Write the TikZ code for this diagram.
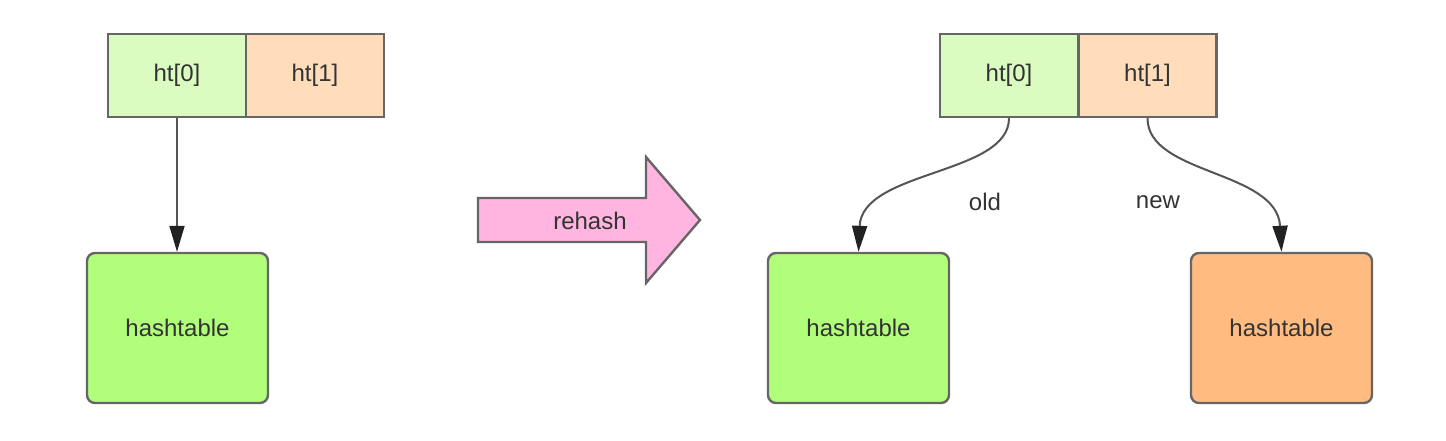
\documentclass[tikz,border=0pt]{standalone}
\usepackage{fontspec}
\setmainfont{Liberation Sans}
\usetikzlibrary{arrows.meta}
\definecolor{txt}{HTML}{333333}
\definecolor{bord}{HTML}{666666}
\definecolor{lgreen}{HTML}{DBFCC0}
\definecolor{lpeach}{HTML}{FFDDBB}
\definecolor{hgreen}{HTML}{B0FE7A}
\definecolor{horange}{HTML}{FFBB80}
\definecolor{pinkarrow}{HTML}{FFB5DF}
\definecolor{linec}{HTML}{555555}
\definecolor{tipc}{HTML}{222222}
\tikzset{
  lbl/.style={font=\fontsize{12}{14}\selectfont, text=txt},
  cell/.style={lbl, draw=bord, line width=1.2pt, minimum width=69pt, minimum height=41.5pt, inner sep=0pt},
  table/.style={lbl, draw=bord, line width=1.2pt, rounded corners=4pt, minimum width=90.5pt, minimum height=75pt, inner sep=0pt},
  link/.style={draw=linec, line width=1pt, -{Triangle[length=13pt,width=7.5pt,fill=tipc,color=tipc]}}
}
\begin{document}
\begin{tikzpicture}[x=0.5pt,y=-0.5pt]
\useasboundingbox (0,0) rectangle (1446,440);
% left side
\node[cell, fill=lgreen] (lh0) at (177,75.5) {ht[0]};
\node[cell, fill=lpeach] (lh1) at (315,75.5) {ht[1]};
\node[table, fill=hgreen] (ltab) at (177.5,328) {hashtable};
\draw[link] (lh0.south) -- (ltab.north -| lh0.south);
% rehash arrow
\draw[draw=bord, line width=1.2pt, fill=pinkarrow, line join=miter]
  (478,198) -- (646,198) -- (646,157) -- (700,220) -- (646,283) -- (646,242) -- (478,242) -- cycle;
\node[lbl] (rehash) at (590,221) {rehash};
% right side
\node[cell, fill=lgreen] (rh0) at (1009,75.5) {ht[0]};
\node[cell, fill=lpeach] (rh1) at (1147.5,75.5) {ht[1]};
\node[table, fill=hgreen] (gtab) at (858.5,328) {hashtable};
\node[table, fill=horange] (otab) at (1281.5,328) {hashtable};
\draw[link] (rh0.south) .. controls (1009,175) and (862,170) .. (gtab.north);
\draw[link] (rh1.south) .. controls (1147.5,175) and (1277,170) .. (otab.north);
\node[lbl] (old) at (985,202) {old};
\node[lbl] (new) at (1158,202) {new};
\end{tikzpicture}
\end{document}
